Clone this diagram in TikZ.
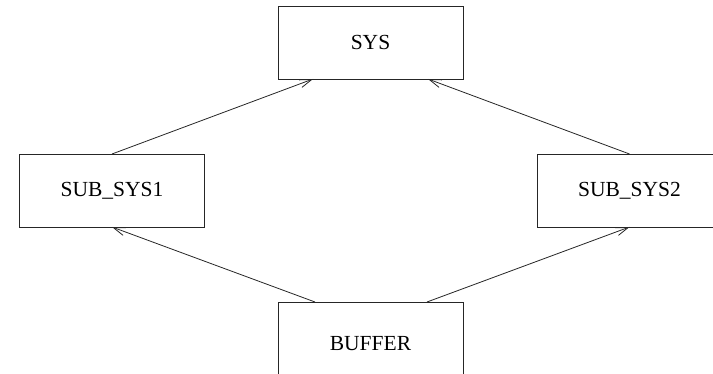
\documentclass[tikz,border=0pt]{standalone}
\usepackage{fontspec}
\setmainfont{Liberation Serif}
\usetikzlibrary{arrows.meta}
\begin{document}
\begin{tikzpicture}[x=1pt,y=-1pt,
  blockbox/.style={draw=black!85,line width=0.8pt,rectangle,inner sep=0pt,outer sep=0pt,
    minimum width=185pt,minimum height=73pt,
    font=\fontsize{21.5}{26}\selectfont},
  link/.style={draw=black!85,line width=0.8pt,
    -{Straight Barb[length=12pt,width=8pt,line width=0.8pt]}}]
  \useasboundingbox (0,0) rectangle (713,374);
  \begin{scope}
    \clip (0,0) rectangle (713,374);
    % boxes
    \node[blockbox] (sys) at (370.5,42.5) {SYS};
    \node[blockbox] (sub1) at (112,190.5) {SUB\_SYS1};
    \node[blockbox] (sub2) at (629.5,190.5) {SUB\_SYS2};
    \node[blockbox,minimum height=84pt] (buf) at (370.5,344) {BUFFER};
    % connectors
    \draw[link] (sub1.north) -- ([xshift=35pt]sys.south west);
    \draw[link] (sub2.north) -- ([xshift=-35pt]sys.south east);
    \draw[link] ([xshift=37pt]buf.north west) -- (sub1.south);
    \draw[link] ([xshift=-36pt]buf.north east) -- (sub2.south);
  \end{scope}
\end{tikzpicture}
\end{document}
